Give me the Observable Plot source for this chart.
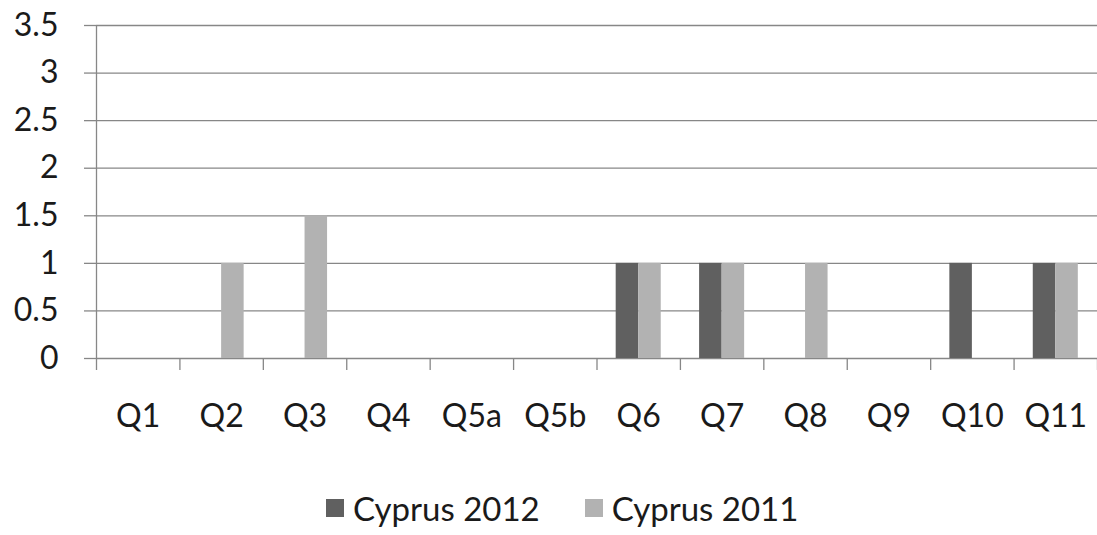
<!DOCTYPE html>
<html>
<head>
<meta charset="utf-8">
<script src="https://cdn.jsdelivr.net/npm/d3@7"></script>
<script src="https://cdn.jsdelivr.net/npm/@observablehq/plot@0.6"></script>
<style>
  html, body { margin: 0; padding: 0; background: #fff; }
  #chart { width: 1097px; }
  .legend { display: flex; align-items: center; height: 55px; padding-left: 326px; font-family: Lato, sans-serif; font-size: 33px; color: #1a1a1a; box-sizing: border-box; }
  .legend .item { display: flex; align-items: center; }
  .legend .sw { width: 18px; height: 18px; margin-right: 9px; }
</style>
</head>
<body>
<div id="chart"></div>
<script>
const categories = ["Q1","Q2","Q3","Q4","Q5a","Q5b","Q6","Q7","Q8","Q9","Q10","Q11"];
const series = ["Cyprus 2012","Cyprus 2011"];
const values2012 = [0,0,0,0,0,0,1,1,0,0,1,1];
const values2011 = [0,1,1.5,0,0,0,1,1,1,0,0,1];
const yTicks = [0,0.5,1,1.5,2,2.5,3,3.5];
const colors = ["#606060","#b2b2b2"];

const barFrac = 0.27; // bar width as fraction of category slot
const data = [];
categories.forEach((c, i) => {
  data.push({q: c, s: series[0], v: values2012[i], x1: i + 0.5 - barFrac, x2: i + 0.5});
  data.push({q: c, s: series[1], v: values2011[i], x1: i + 0.5, x2: i + 0.5 + barFrac});
});
const centers = categories.map((c, i) => i + 0.5);
const bounds = d3.range(categories.length + 1);

const gridColor = "#878787";

const chart = Plot.plot({
  width: 1097,
  height: 480,
  marginTop: 25,
  marginBottom: 122,
  marginLeft: 96,
  marginRight: 0,
  style: {fontFamily: "Lato, sans-serif", fontSize: "32px", color: "#1a1a1a", background: "#fff", overflow: "visible"},
  x: {type: "linear", domain: [0, categories.length], axis: null},
  y: {domain: [0, 3.5], axis: null},
  color: {domain: series, range: colors},
  marks: [
    Plot.ruleY(yTicks, {stroke: gridColor, strokeWidth: 1.3}),
    Plot.axisY({ticks: yTicks, tickSize: 12, tickPadding: 26, stroke: gridColor, strokeWidth: 1.3, strokeOpacity: 1, label: null, tickFormat: d => String(d)}),
    Plot.ruleX([0], {y1: 0, y2: 3.5, stroke: gridColor, strokeWidth: 1.3}),
    Plot.rectY(data, {x1: "x1", x2: "x2", y1: 0, y2: "v", fill: "s"}),
    Plot.axisX({ticks: bounds, tickSize: 12, tickFormat: () => "", stroke: gridColor, strokeWidth: 1.3, strokeOpacity: 1, label: null}),
    Plot.axisX({ticks: centers, tickSize: 0, tickPadding: 46, tickFormat: d => categories[Math.round(d - 0.5)], label: null})
  ]
});
document.getElementById("chart").appendChild(chart);

const legend = document.createElement("div");
legend.className = "legend";
series.forEach((s, i) => {
  const item = document.createElement("div");
  item.className = "item";
  if (i > 0) item.style.marginLeft = "45px";
  const sw = document.createElement("span");
  sw.className = "sw";
  sw.style.background = colors[i];
  const t = document.createElement("span");
  t.textContent = s;
  item.appendChild(sw);
  item.appendChild(t);
  legend.appendChild(item);
});
document.getElementById("chart").appendChild(legend);
</script>
</body>
</html>
